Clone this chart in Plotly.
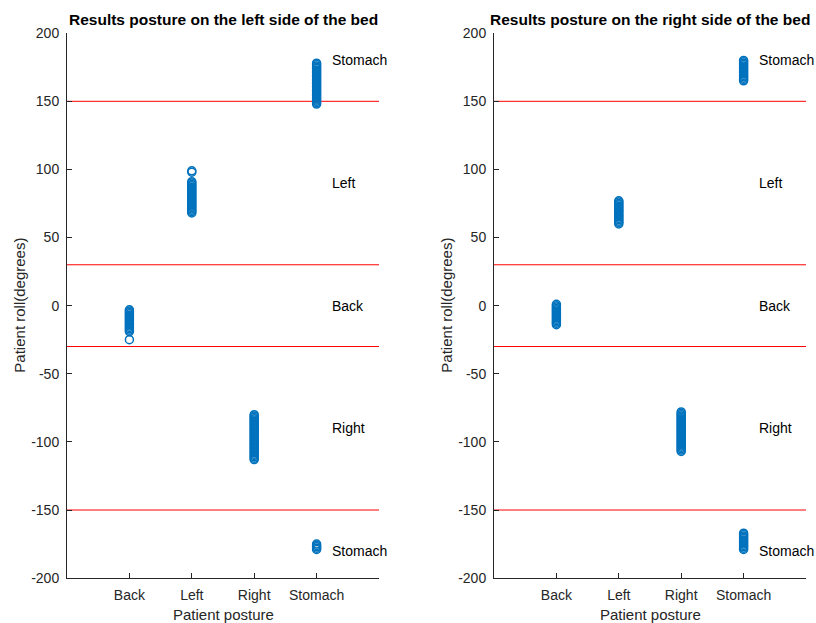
import plotly.graph_objects as go

# ---- data ----
postures = ["Back", "Left", "Right", "Stomach"]
tick_labels = ["Back", "Left", "Right", "Stomach", ""]
y_ticks = [-200, -150, -100, -50, 0, 50, 100, 150, 200]
y_tick_labels = ["-200", "-150", "-100", "-50", "0", "50", "100", "150", "200"]
thresholds = [150, 30, -30, -150]
region_labels = ["Stomach", "Left", "Back", "Right", "Stomach"]
region_label_y = [180, 90, 0, -90, -180]

left_back = [-3, -4, -5, -6, -7, -8, -9, -10, -11, -12, -13, -14, -15, -16, -17, -18, -19, -25]
left_left = [99, 98, 91, 90, 89, 88, 87, 86, 85, 84, 83, 82, 81, 80, 79, 78, 77, 76, 75, 74, 73, 72, 71, 70, 69, 68]
left_right = [-80, -81, -82, -83, -84, -85, -86, -87, -88, -89, -90, -91, -92, -93, -94, -95, -96, -97, -98,
              -99, -100, -101, -102, -103, -104, -105, -106, -107, -108, -109, -110, -111, -112, -113]
left_stomach = [178, 177, 176, 175, 174, 173, 172, 171, 170, 169, 168, 167, 166, 165, 164, 163, 162, 161,
                160, 159, 158, 157, 156, 155, 154, 153, 152, 151, 150, 149, 148,
                -175, -176, -177, -178, -179]

right_back = [1, 0, -1, -2, -3, -4, -5, -6, -7, -8, -9, -10, -11, -12, -13, -14]
right_left = [77, 76, 75, 74, 73, 72, 71, 70, 69, 68, 67, 66, 65, 64, 63, 62, 61, 60]
right_right = [-78, -79, -80, -81, -82, -83, -84, -85, -86, -87, -88, -89, -90, -91, -92, -93, -94, -95,
               -96, -97, -98, -99, -100, -101, -102, -103, -104, -105, -106, -107]
right_stomach = [180, 179, 178, 177, 176, 175, 174, 173, 172, 171, 170, 169, 168, 167, 166, 165,
                 -167, -168, -169, -170, -171, -172, -173, -174, -175, -176, -177, -178, -179]

panels = [
    ("Results posture on the left side of the bed", [left_back, left_left, left_right, left_stomach]),
    ("Results posture on the right side of the bed", [right_back, right_left, right_right, right_stomach]),
]

W, H = 816, 623
# vertical pixel -> paper fraction (compensates the rendered paper offset)
TOP_OFF, EFF_H = 6.76, 608.2


def fy(px):
    return 1 - (px - TOP_OFF) / EFF_H


x_domains = [[67 / W, 379 / W], [494 / W, 806 / W]]
y_domain = [fy(578), fy(32)]

BLUE = "#0072BD"
AXC = "#262626"
FONT = "Liberation Sans, Arial, Helvetica, sans-serif"

fig = go.Figure()
annotations = []

for i, (title, series) in enumerate(panels):
    xa = "x" if i == 0 else "x2"
    ya = "y" if i == 0 else "y2"
    for t in thresholds:
        fig.add_trace(go.Scatter(x=[0, 5], y=[t, t], mode="lines",
                                 line=dict(color="#FF0000", width=1),
                                 xaxis=xa, yaxis=ya, hoverinfo="skip", showlegend=False))
    for k, vals in enumerate(series):
        fig.add_trace(go.Scatter(x=[k + 1] * len(vals), y=vals, mode="markers",
                                 marker=dict(symbol="circle-open", size=8, color=BLUE,
                                             line=dict(width=1.5, color=BLUE)),
                                 xaxis=xa, yaxis=ya, showlegend=False))
    for lab, yy in zip(region_labels, region_label_y):
        annotations.append(dict(x=4.22, y=yy, xref=xa, yref=ya, text=lab, showarrow=False,
                                xanchor="left", yanchor="middle",
                                font=dict(family=FONT, size=14, color="#000000")))
    d = x_domains[i]
    cx = (d[0] + d[1]) / 2
    annotations.append(dict(x=cx, y=fy(18), xref="paper", yref="paper", text="<b>" + title + "</b>",
                            showarrow=False, xanchor="center", yanchor="middle",
                            font=dict(family=FONT, size=15.5, color="#000000")))
    annotations.append(dict(x=cx, y=fy(614), xref="paper", yref="paper", text="Patient posture",
                            showarrow=False, xanchor="center", yanchor="middle",
                            font=dict(family=FONT, size=15, color=AXC)))
    annotations.append(dict(x=(20 if i == 0 else 447) / W, y=fy(305), xref="paper", yref="paper",
                            text="Patient roll(degrees)", textangle=-90,
                            showarrow=False, xanchor="center", yanchor="middle",
                            font=dict(family=FONT, size=15, color=AXC)))

axis_common = dict(showgrid=False, zeroline=False, showline=True, linecolor=AXC, linewidth=1,
                   ticks="inside", ticklen=5, tickcolor=AXC, tickwidth=1,
                   tickfont=dict(family=FONT, size=14, color=AXC))

layout = dict(width=W, height=H, autosize=False, margin=dict(l=0, r=0, t=0, b=0),
              paper_bgcolor="white", plot_bgcolor="white", showlegend=False,
              annotations=annotations)
for i in range(2):
    sx = "" if i == 0 else "2"
    layout["xaxis" + sx] = dict(axis_common, domain=x_domains[i], range=[0, 5],
                                tickvals=[1, 2, 3, 4, 5], ticktext=tick_labels,
                                anchor="y" + sx, ticklabelstandoff=4)
    layout["yaxis" + sx] = dict(axis_common, domain=y_domain, range=[-200, 200],
                                tickvals=y_ticks, ticktext=y_tick_labels,
                                anchor="x" + sx, ticklabelstandoff=4)

fig.update_layout(**layout)
fig.write_html("out.html")
